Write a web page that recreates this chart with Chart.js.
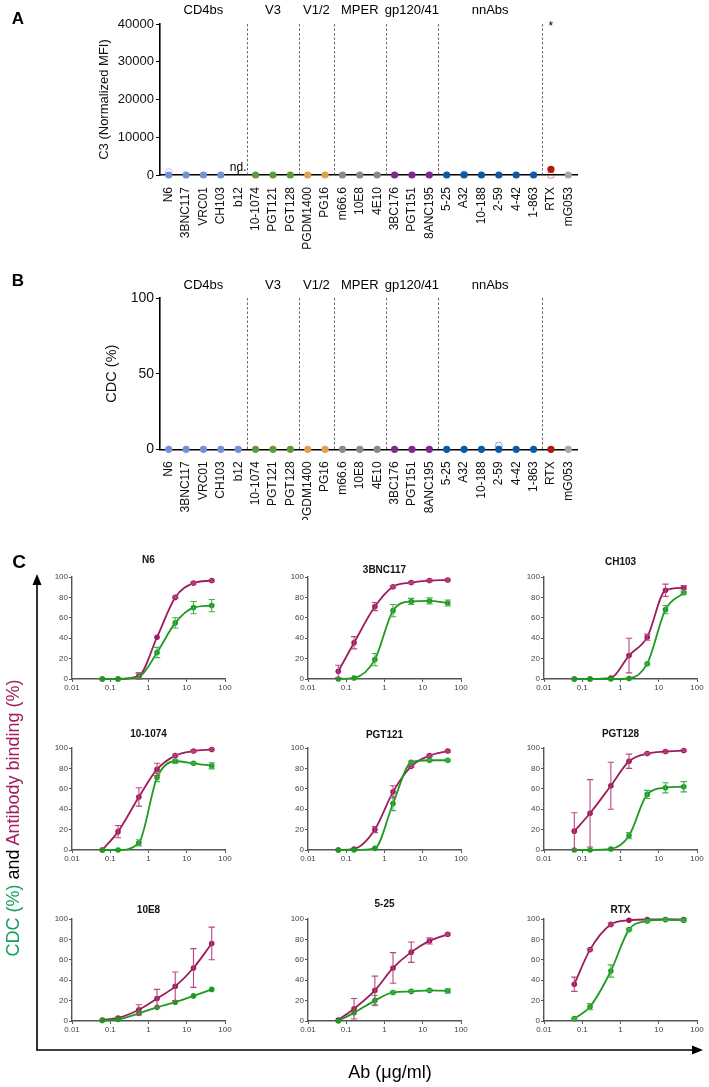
<!DOCTYPE html>
<html><head><meta charset="utf-8">
<script src="https://cdn.jsdelivr.net/npm/chart.js@4.4.0/dist/chart.umd.min.js"></script>
<style>
body{margin:0;background:#fff;font-family:"Liberation Sans",Arial,Helvetica,sans-serif;}
#fig{position:relative;width:709px;height:1087px;overflow:hidden;background:#fff;}
canvas{position:absolute;}
.lbl{position:absolute;white-space:nowrap;color:#000;transform:translate(-50%,-50%);line-height:1;}
</style></head><body><div id="fig">
<canvas id="chartA" width="709" height="265" style="left:0;top:0"></canvas>
<canvas id="chartB" width="709" height="250" style="left:0;top:270px"></canvas>
<svg style="position:absolute;left:0;top:0" width="709" height="1087">
  <polyline points="37,583 37,1050 693,1050" fill="none" stroke="#000" stroke-width="1.6"/>
  <polygon points="37,574 32.5,585 41.5,585" fill="#000"/>
  <polygon points="703,1050 692,1045.5 692,1054.5" fill="#000"/>
</svg>
<div class="lbl" style="left:18px;top:18px;font-weight:bold;font-size:17px">A</div>
<div class="lbl" style="left:18px;top:280px;font-weight:bold;font-size:17px">B</div>
<div class="lbl" style="left:19px;top:561px;font-weight:bold;font-size:19px">C</div>
<div class="lbl" style="left:13px;top:818px;font-size:18px;transform:translate(-50%,-50%) rotate(-90deg)"><span style="color:#17a05a">CDC (%)</span> and <span style="color:#a3205f">Antibody binding (%)</span></div>
<div class="lbl" style="left:390px;top:1072px;font-size:18px">Ab (μg/ml)</div>
</div>
<script>
// ---------- Panel A / B data ----------
const antibodies = ['N6','3BNC117','VRC01','CH103','b12','10-1074','PGT121','PGT128','PGDM1400','PG16','m66.6','10E8','4E10','3BC176','PGT151','8ANC195','5-25','A32','10-188','2-59','4-42','1-863','RTX','mG053'];
const groupNames = ['CD4bs','V3','V1/2','MPER','gp120/41','nnAbs'];
const groupSizes = [5,3,2,3,3,6];
const c3Mean      = [0,0,0,0,null,0,0,0,0,0,0,0,0,0,0,0,0,0,0,0,0,0,1500,0];
const c3Replicate = [800,null,null,null,null,null,null,null,null,null,null,null,null,null,null,null,null,200,null,null,null,null,0,null];
const c3Ticks = [0,10000,20000,30000,40000];
const cdcMean      = [0,0,0,0,0,0,0,0,0,0,0,0,0,0,0,0,0,0,0,0,0,0,0,0];
const cdcReplicate = [null,null,null,null,null,null,null,null,null,null,null,null,null,null,null,null,null,null,null,2.5,null,null,null,null];
const cdcTicks = [0,50,100];

// ---------- Panel C data ----------
const concentrations = [0.062, 0.16, 0.56, 1.67, 5, 15, 45];
const logTickValues = [0.01, 0.1, 1, 10, 100];
const logTickLabels = ['0.01','0.1','1','10','100'];
const pctTicks = [0,20,40,60,80,100];
const curveTitles = ['N6','3BNC117','CH103','10-1074','PGT121','PGT128','10E8','5-25','RTX'];

const bindN6 = [0, 0, 3, 41, 80, 94, 96.5];        const bindN6Err = [0,0,3,0,1,1,1];
const cdcN6  = [0, 0, 2, 26, 55, 70, 72];          const cdcN6Err  = [0,0,4,5,5,6,6];
const bind3BNC117 = [7.5, 35.5, 71, 90.5, 94.5, 96.5, 97]; const bind3BNC117Err = [6,6,4,1,1,1,1];
const cdc3BNC117  = [0, 1, 19, 67, 76, 76.5, 74.5];        const cdc3BNC117Err  = [0,0,6,6,3,3,3];
const bindCH103 = [0, 0, 1, 23, 41, 87, 89.5];     const bindCH103Err = [0,0,0,17,3,6,2];
const cdcCH103  = [0, 0, 0, 0.5, 15, 68, 84.5];    const cdcCH103Err  = [0,0,0,0,1,4,1];
const bind101074 = [0, 18, 52, 79, 92.5, 97, 98.5]; const bind101074Err = [0,6,9,6,1,1,1];
const cdc101074  = [0, 0, 7, 71, 87, 85, 82.5];     const cdc101074Err  = [0,0,3,4,2,1,3];
const bindPGT121 = [0, 1, 20, 57, 82, 92.5, 97];    const bindPGT121Err = [0,0,3,6,1,1,1];
const cdcPGT121  = [0, 0, 1.6, 45.6, 86, 88, 88];   const cdcPGT121Err  = [0,0,0,7,1,1,1];
const bindPGT128 = [18.5, 36, 63, 87, 94.5, 96.5, 97.5]; const bindPGT128Err = [18,33,23,7,1,1,1];
const cdcPGT128  = [0, 0, 1, 14, 54.5, 61, 62];     const cdcPGT128Err  = [0,0,0,3,4,5,5];
const bind10E8 = [1, 3, 11, 22, 34, 52, 76];        const bind10E8Err = [0,0,5,9,14,19,16];
const cdc10E8  = [0.5, 1.6, 7.5, 13.4, 18.4, 24.6, 31]; const cdc10E8Err = [0,0,0,0,0,0,0];
const bind525 = [1, 12, 30, 52, 67.5, 78.5, 85];    const bind525Err = [0,10,14,15,10,3,1];
const cdc525  = [0, 8, 20, 28, 29, 30, 29.5];       const cdc525Err  = [0,0,5,1,1,1,2];
const bindRTX = [36, 70, 94.7, 98.8, 99.5, 99.5, 99.5]; const bindRTXErr = [7,1,1,0,0,0,0];
const cdcRTX  = [2.3, 14, 49, 89.6, 98, 99.5, 98.8];    const cdcRTXErr  = [1,3,6,1,1,1,1];

const bindingSeries = [bindN6, bind3BNC117, bindCH103, bind101074, bindPGT121, bindPGT128, bind10E8, bind525, bindRTX];
const bindingErrors = [bindN6Err, bind3BNC117Err, bindCH103Err, bind101074Err, bindPGT121Err, bindPGT128Err, bind10E8Err, bind525Err, bindRTXErr];
const cdcSeries = [cdcN6, cdc3BNC117, cdcCH103, cdc101074, cdcPGT121, cdcPGT128, cdc10E8, cdc525, cdcRTX];
const cdcErrors = [cdcN6Err, cdc3BNC117Err, cdcCH103Err, cdc101074Err, cdcPGT121Err, cdcPGT128Err, cdc10E8Err, cdc525Err, cdcRTXErr];

// ---------- styling ----------
const FONT = '"Liberation Sans", Arial, Helvetica, sans-serif';
Chart.defaults.font.family = FONT;
const groupColors = ['#7291d8','#5e9a3e','#e0a04e','#8a8a8a','#7b2a8e','#0c5aa6'];
const extraColors = ['#b3190c','#a8a8a8'];
const pointColors = [];
groupSizes.forEach((n,g)=>{ for(let i=0;i<n;i++) pointColors.push(groupColors[g]); });
pointColors.push(...extraColors);
const ringColors = pointColors.map(c => c + '80');
const MAGENTA = '#9e1c5c', MAGENTA_ERR = '#b9477f';
const GREEN = '#1e9a22', GREEN_ERR = '#45b04c';

// ---------- plugins ----------
const groupPlugin = {
  id: 'groups',
  afterDraw(chart, args, opts) {
    if (!opts || !opts.names) return;
    const {ctx, chartArea} = chart; const x = chart.scales.x;
    ctx.save();
    let start = 0;
    opts.names.forEach((name, g) => {
      const end = start + opts.sizes[g] - 1;
      const cx = (x.getPixelForValue(start) + x.getPixelForValue(end)) / 2;
      ctx.fillStyle = '#000'; ctx.font = opts.labelFont + 'px ' + FONT;
      ctx.textAlign = 'center'; ctx.textBaseline = 'middle';
      ctx.fillText(name, cx, chartArea.top - opts.labelGap);
      const sep = (x.getPixelForValue(end) + x.getPixelForValue(end + 1)) / 2;
      ctx.strokeStyle = '#444'; ctx.lineWidth = 0.8; ctx.setLineDash([2.5, 2]);
      ctx.beginPath(); ctx.moveTo(Math.round(sep) + 0.5, chartArea.top); ctx.lineTo(Math.round(sep) + 0.5, chartArea.bottom); ctx.stroke();
      ctx.setLineDash([]);
      start = end + 1;
    });
    (opts.notes || []).forEach(n => {
      const px = x.getPixelForValue(n.index);
      ctx.fillStyle = '#000'; ctx.font = n.size + 'px ' + FONT;
      ctx.textAlign = 'center'; ctx.textBaseline = 'alphabetic';
      ctx.fillText(n.text, px, n.atTop ? chartArea.top + n.dy : chartArea.bottom - n.dy);
      if (n.tick) { ctx.strokeStyle = '#000'; ctx.lineWidth = 1.2; ctx.beginPath(); ctx.moveTo(px, chartArea.bottom); ctx.lineTo(px, chartArea.bottom - 4); ctx.stroke(); }
    });
    ctx.restore();
  }
};

const errorBarPlugin = {
  id: 'errorBars',
  afterDatasetsDraw(chart) {
    const {ctx} = chart; const xs = chart.scales.x, ys = chart.scales.y;
    ctx.save();
    chart.data.datasets.forEach(ds => {
      if (!ds.errors) return;
      ctx.strokeStyle = ds.errorColor; ctx.lineWidth = 1.1;
      ds.data.forEach((p, j) => {
        const e = ds.errors[j];
        if (!e) return;
        const px = xs.getPixelForValue(p.x);
        const yTop = ys.getPixelForValue(p.y + e);
        const yBot = ys.getPixelForValue(Math.max(p.y - e, 0));
        ctx.beginPath();
        ctx.moveTo(px, yTop); ctx.lineTo(px, yBot);
        ctx.moveTo(px - 3.2, yTop); ctx.lineTo(px + 3.2, yTop);
        ctx.moveTo(px - 3.2, yBot); ctx.lineTo(px + 3.2, yBot);
        ctx.stroke();
      });
    });
    ctx.restore();
  }
};

const titlePlugin = {
  id: 'panelTitle',
  afterDraw(chart, args, opts) {
    if (!opts || !opts.text) return;
    const {ctx, chartArea} = chart;
    ctx.save();
    ctx.fillStyle = '#111'; ctx.font = 'bold 10px ' + FONT;
    ctx.textAlign = 'center'; ctx.textBaseline = 'middle';
    ctx.fillText(opts.text, (chartArea.left + chartArea.right) / 2, chartArea.top - opts.gap);
    ctx.restore();
  }
};

// ---------- panels A and B ----------
function dotChart(id, mean, rep, ticks, yTitle, cfg) {
  new Chart(document.getElementById(id), {
    type: 'line',
    data: { labels: antibodies, datasets: [
      { data: mean, showLine: false, pointRadius: 3.6, pointHoverRadius: 3.6, pointBackgroundColor: pointColors, pointBorderColor: pointColors, pointBorderWidth: 0, clip: false },
      { data: rep, showLine: false, pointRadius: 3.4, pointHoverRadius: 3.4, pointBackgroundColor: 'rgba(255,255,255,0)', pointBorderColor: ringColors, pointBorderWidth: 1, clip: false }
    ]},
    plugins: [groupPlugin],
    options: {
      responsive: false, animation: false, devicePixelRatio: 1,
      layout: { padding: { top: cfg.top, right: 132, left: cfg.left, bottom: 0 } },
      plugins: { legend: { display: false }, tooltip: { enabled: false },
        groups: { names: groupNames, sizes: groupSizes, labelGap: cfg.labelGap, labelFont: 13, notes: cfg.notes } },
      scales: {
        x: { offset: true, grid: { display: false }, border: { display: true, color: '#000', width: 1.6 },
             ticks: { minRotation: 90, maxRotation: 90, autoSkip: false, padding: 4, color: '#111', font: { size: 12 } },
             afterFit(s) { s.height = cfg.xh; } },
        y: { min: 0, max: ticks[ticks.length - 1],
             afterBuildTicks(s) { s.ticks = ticks.map(v => ({ value: v })); },
             grid: { display: true, drawOnChartArea: false, drawTicks: true, tickLength: 4, color: '#000', lineWidth: 1 },
             border: { display: true, color: '#000', width: 1.6 },
             ticks: { padding: 2, color: '#111', font: { size: cfg.tickFont }, callback: (v) => String(v) },
             title: { display: true, text: yTitle, color: '#111', font: { size: cfg.titleFont }, padding: { top: 4, bottom: 4 } },
             afterFit(s) { s.width = cfg.yw; } }
      }
    }
  });
}

dotChart('chartA', c3Mean, c3Replicate, c3Ticks, 'C3 (Normalized MFI)',
  { top: 24, left: 93, yw: 67, xh: 90, labelGap: 14, tickFont: 13, titleFont: 13,
    notes: [ { index: 4, text: 'nd.', size: 12, dy: 4, tick: true }, { index: 22, text: '*', size: 12, dy: 6, atTop: true } ] });
dotChart('chartB', cdcMean, cdcReplicate, cdcTicks, 'CDC (%)',
  { top: 28, left: 99, yw: 61, xh: 70.7, labelGap: 13, tickFont: 14, titleFont: 14.5, notes: [] });

// ---------- panel C ----------
const colLeft = [72, 308, 544];
const rowTop = [577, 748, 919];
const titleGaps = [17, 7, 15, 14, 13, 14, 9, 15, 9];
const fig = document.getElementById('fig');

function series(ys, errs, color, errColor) {
  return { data: concentrations.map((x, i) => ({ x, y: ys[i] })), errors: errs, errorColor: errColor,
    borderColor: color, backgroundColor: color, pointBackgroundColor: color, pointBorderColor: color,
    pointRadius: 2.8, pointHoverRadius: 2.8, pointBorderWidth: 0, borderWidth: 1.8,
    cubicInterpolationMode: 'monotone', fill: false, clip: false };
}

curveTitles.forEach((title, i) => {
  const r = Math.floor(i / 3), c = i % 3;
  const cv = document.createElement('canvas');
  cv.width = 203; cv.height = 148;
  cv.style.left = (colLeft[c] - 40) + 'px';
  cv.style.top = (rowTop[r] - 28) + 'px';
  fig.appendChild(cv);
  new Chart(cv, {
    type: 'line',
    data: { datasets: [
      series(cdcSeries[i], cdcErrors[i], GREEN, GREEN_ERR),
      series(bindingSeries[i], bindingErrors[i], MAGENTA, MAGENTA_ERR)
    ]},
    plugins: [errorBarPlugin, titlePlugin],
    options: {
      responsive: false, animation: false, devicePixelRatio: 1,
      layout: { padding: { top: 28, right: 10, left: 0, bottom: 0 } },
      plugins: { legend: { display: false }, tooltip: { enabled: false }, panelTitle: { text: title, gap: titleGaps[i] } },
      scales: {
        x: { type: 'logarithmic', min: 0.01, max: 100,
             afterBuildTicks(s) { s.ticks = logTickValues.map(v => ({ value: v })); },
             grid: { display: true, drawOnChartArea: false, drawTicks: true, tickLength: 3, color: '#555', lineWidth: 1 },
             border: { display: true, color: '#555', width: 1.4 },
             ticks: { autoSkip: false, maxRotation: 0, padding: 1, color: '#444', font: { size: 8 },
                      callback: (v, idx) => logTickLabels[idx] },
             afterFit(s) { s.height = 18; } },
        y: { min: 0, max: 100,
             afterBuildTicks(s) { s.ticks = pctTicks.map(v => ({ value: v })); },
             grid: { display: true, drawOnChartArea: false, drawTicks: true, tickLength: 3, color: '#555', lineWidth: 1 },
             border: { display: true, color: '#555', width: 1.4 },
             ticks: { padding: 1, color: '#444', font: { size: 8 } },
             afterFit(s) { s.width = 40; } }
      }
    }
  });
});
</script>
</body></html>
